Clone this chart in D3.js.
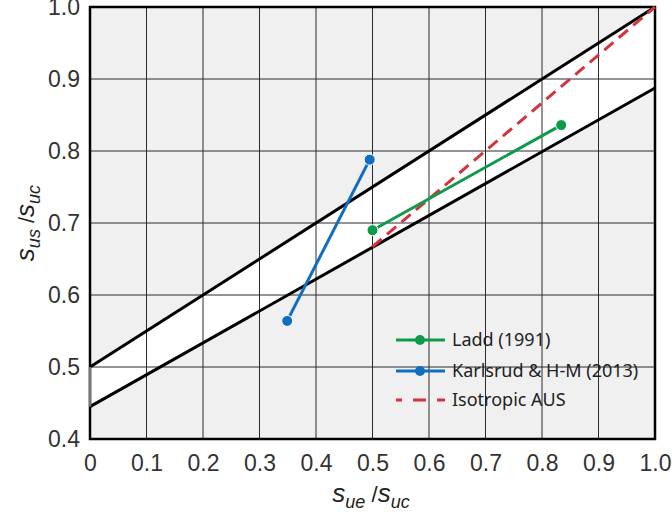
<!DOCTYPE html>
<html><head><meta charset="utf-8">
<script src="https://cdn.jsdelivr.net/npm/d3@7"></script>
<style>body{margin:0;background:#fff;}svg{display:block;}</style>
</head><body>
<svg id="c" width="672" height="517"></svg>
<script>
const xTicks = [0,0.1,0.2,0.3,0.4,0.5,0.6,0.7,0.8,0.9,1.0];
const xTickLabels = ["0","0.1","0.2","0.3","0.4","0.5","0.6","0.7","0.8","0.9","1.0"];
const yTicks = [0.4,0.5,0.6,0.7,0.8,0.9,1.0];
const yTickLabels = ["0.4","0.5","0.6","0.7","0.8","0.9","1.0"];
const bandUpper = [[0,0.5],[1,1.0]];
const bandLower = [[0,0.445],[1,0.8875]];
const laddX = [0.5,0.834]; const laddY = [0.69,0.836];
const karlX = [0.349,0.495]; const karlY = [0.564,0.788];
const isoX = [0.5,1.0]; const isoY = [0.667,1.0];
const seriesNames = ["Ladd (1991)","Karlsrud & H-M (2013)","Isotropic AUS"];
const colors = ["#0e9a4a","#0f6ebe","#d2343c"];

const svg = d3.select("#c");
const L=90,R=655,T=7,B=439;
const x = d3.scaleLinear().domain([0,1]).range([L,R]);
const y = d3.scaleLinear().domain([0.4,1.0]).range([B,T]);

svg.append("rect").attr("x",L).attr("y",T).attr("width",R-L).attr("height",B-T).attr("fill","#f0f0f0");
const poly = [bandUpper[0],bandUpper[1],bandLower[1],bandLower[0]];
svg.append("path").attr("d", d3.line().x(d=>x(d[0])).y(d=>y(d[1]))(poly)+"Z").attr("fill","#fff");
const g = svg.append("g");
xTicks.forEach(v=>g.append("line").attr("x1",x(v)).attr("x2",x(v)).attr("y1",T).attr("y2",B).attr("stroke","#2a2a2a").attr("stroke-width",1));
yTicks.forEach(v=>g.append("line").attr("x1",L).attr("x2",R).attr("y1",y(v)).attr("y2",y(v)).attr("stroke","#2a2a2a").attr("stroke-width",1));
const ln = d3.line().x(d=>x(d[0])).y(d=>y(d[1]));
svg.append("path").attr("d",ln(bandUpper)).attr("stroke","#000").attr("stroke-width",3).attr("fill","none");
svg.append("path").attr("d",ln(bandLower)).attr("stroke","#000").attr("stroke-width",3).attr("fill","none");
svg.append("rect").attr("x",L).attr("y",T).attr("width",R-L).attr("height",B-T).attr("fill","none").attr("stroke","#000").attr("stroke-width",2.5);
svg.append("line").attr("x1",x(0)).attr("x2",x(0)).attr("y1",y(bandLower[0][1])).attr("y2",y(bandUpper[0][1])).attr("stroke","#777").attr("stroke-width",2.5);
const xa = d3.axisBottom(x).tickValues(xTicks).tickFormat((d,i)=>xTickLabels[i]).tickSize(0).tickPadding(16);
svg.append("g").attr("transform",`translate(0,${B})`).call(xa).call(s=>s.select(".domain").remove())
  .selectAll("text").attr("font-family","Liberation Sans, Arial").attr("font-size",23).attr("fill","#333");
const ya = d3.axisLeft(y).tickValues(yTicks).tickFormat((d,i)=>yTickLabels[i]).tickSize(0).tickPadding(10);
svg.append("g").attr("transform",`translate(${L},0)`).call(ya).call(s=>s.select(".domain").remove())
  .selectAll("text").attr("font-family","Liberation Sans, Arial").attr("font-size",23).attr("fill","#333");

svg.append("path").attr("d",ln(isoX.map((v,i)=>[v,isoY[i]]))).attr("stroke",colors[2]).attr("stroke-width",3).attr("stroke-dasharray","12,7").attr("fill","none");
[[laddX,laddY,colors[0]],[karlX,karlY,colors[1]]].forEach(([xs,ys,c])=>{
  const pts = xs.map((v,i)=>[v,ys[i]]);
  svg.append("path").attr("d",ln(pts)).attr("stroke",c).attr("stroke-width",3).attr("fill","none");
  pts.forEach(p=>svg.append("circle").attr("cx",x(p[0])).attr("cy",y(p[1])).attr("r",5.5).attr("fill",c).attr("stroke","#fff").attr("stroke-width",1));
});

const lg = svg.append("g").attr("font-family","Noto Sans, Open Sans, sans-serif").attr("font-size",18).attr("fill","#222");
const ly = [340,371,400];
seriesNames.forEach((n,i)=>{
  const yy = ly[i];
  if(i<2){
    lg.append("line").attr("x1",396).attr("x2",445).attr("y1",yy).attr("y2",yy).attr("stroke",colors[i]).attr("stroke-width",3);
    lg.append("circle").attr("cx",420).attr("cy",yy).attr("r",5).attr("fill",colors[i]);
  } else {
    lg.append("line").attr("x1",396).attr("x2",445).attr("y1",yy).attr("y2",yy).attr("stroke",colors[i]).attr("stroke-width",3).attr("stroke-dasharray","13,11").attr("stroke-dashoffset",7);
  }
  lg.append("text").attr("x",452).attr("y",yy).attr("dy","0.35em").text(n);
});

function title(sel, sub1, sub2){
  sel.append("tspan").text("s");
  sel.append("tspan").attr("font-size",18).attr("dy",6).text(sub1);
  sel.append("tspan").attr("dy",-6).attr("font-style","normal").attr("font-size",22).text(" /");
  sel.append("tspan").text("s");
  sel.append("tspan").attr("font-size",18).attr("dy",6).text(sub2);
}
const xt = svg.append("text").attr("x",371).attr("y",502).attr("text-anchor","middle").attr("font-family","Liberation Sans, Arial").attr("font-size",26).attr("font-style","italic").attr("fill","#222");
title(xt,"ue","uc");
const yt = svg.append("text").attr("transform","translate(34,223) rotate(-90)").attr("text-anchor","middle").attr("font-family","Liberation Sans, Arial").attr("font-size",26).attr("font-style","italic").attr("fill","#222");
title(yt,"us","uc");
</script>
</body></html>
